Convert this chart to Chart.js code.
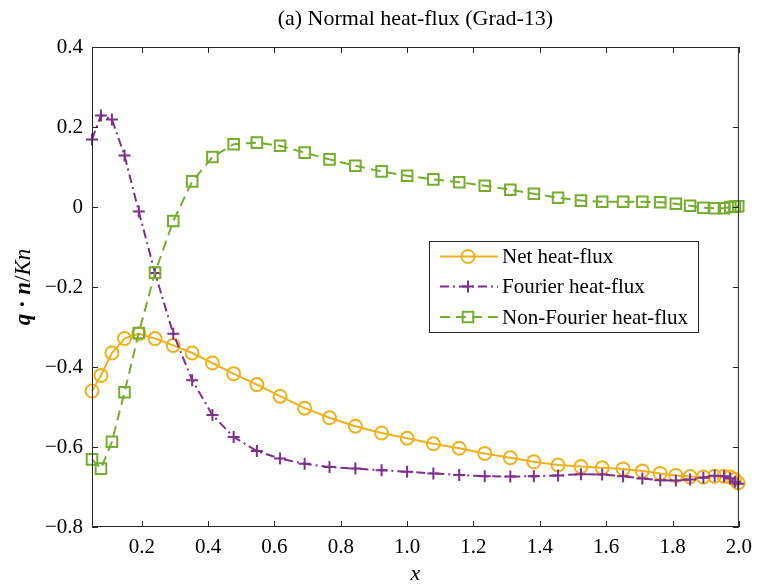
<!DOCTYPE html>
<html>
<head>
<meta charset="utf-8">
<script src="https://cdn.jsdelivr.net/npm/chart.js@4/dist/chart.umd.min.js"></script>
<style>
  html, body { margin: 0; padding: 0; background: #fff; }
  #wrap { width: 760px; height: 587px; }
</style>
</head>
<body>
<div id="wrap"><canvas id="chart" width="760" height="587"></canvas></div>
<script>
// values
var xPos = [0.05, 0.077, 0.11, 0.148, 0.191, 0.24, 0.295, 0.352, 0.413, 0.477, 0.547, 0.617,
            0.691, 0.766, 0.844, 0.923, 1.0, 1.079, 1.157, 1.234, 1.311, 1.382, 1.455, 1.524,
            1.588, 1.651, 1.709, 1.763, 1.81, 1.853, 1.893, 1.927, 1.955, 1.974, 1.988, 1.998];
var netFlux = [-0.46, -0.421, -0.365, -0.329, -0.317, -0.329, -0.346, -0.365, -0.39, -0.417, -0.444, -0.473,
               -0.503, -0.527, -0.548, -0.565, -0.578, -0.592, -0.603, -0.616, -0.627, -0.637, -0.645, -0.649,
               -0.652, -0.655, -0.66, -0.666, -0.671, -0.674, -0.675, -0.673, -0.673, -0.675, -0.681, -0.69];
var fourierFlux = [0.169, 0.229, 0.219, 0.129, -0.011, -0.165, -0.317, -0.433, -0.52, -0.575, -0.61, -0.629,
                   -0.642, -0.65, -0.654, -0.658, -0.662, -0.666, -0.67, -0.673, -0.674, -0.673, -0.671, -0.668,
                   -0.669, -0.673, -0.679, -0.683, -0.684, -0.681, -0.677, -0.672, -0.673, -0.679, -0.687, -0.692];
var nonFourierFlux = [-0.631, -0.654, -0.587, -0.463, -0.315, -0.164, -0.035, 0.064, 0.125, 0.157, 0.161, 0.153,
                      0.136, 0.119, 0.103, 0.089, 0.078, 0.069, 0.062, 0.053, 0.043, 0.033, 0.023, 0.016,
                      0.013, 0.013, 0.013, 0.012, 0.008, 0.003, -0.002, -0.003, -0.003, 0.0, 0.001, 0.002];
var seriesNames = ['Net heat-flux', 'Fourier heat-flux', 'Non-Fourier heat-flux'];
var xTicks = [0.2, 0.4, 0.6, 0.8, 1.0, 1.2, 1.4, 1.6, 1.8, 2.0];
var yTicks = [-0.8, -0.6, -0.4, -0.2, 0, 0.2, 0.4];
var chartTitle = '(a) Normal heat-flux (Grad-13)';

var SERIF = "'Liberation Serif', 'Times New Roman', serif";
var orange = '#EDB120', purple = '#7E2F8E', green = '#77AC30';

function pts(ys) {
    return xPos.map(function(x, i) { return { x: x, y: ys[i] }; });
}

function fmt(v) {
    if (Math.abs(v) < 1e-9) return '0';
    var s = Math.abs(v).toFixed(1);
    return v < 0 ? '\u2212' + s : s;
}

// draws one marker shape (used for the legend)
function marker(ctx, style, x, y, r, color) {
    ctx.save();
    ctx.strokeStyle = color;
    ctx.lineWidth = 2;
    ctx.setLineDash([]);
    ctx.beginPath();
    if (style === 'circle') {
        ctx.arc(x, y, r, 0, Math.PI * 2);
    } else if (style === 'cross') {
        ctx.moveTo(x - r, y); ctx.lineTo(x + r, y);
        ctx.moveTo(x, y - r); ctx.lineTo(x, y + r);
    } else {
        var s = r / Math.SQRT2;
        ctx.rect(x - s, y - s, 2 * s, 2 * s);
    }
    ctx.stroke();
    ctx.restore();
}

var framePlugin = {
    id: 'frame',
    afterDraw: function(chart) {
        var ctx = chart.ctx, a = chart.chartArea;
        var xs = chart.scales.x, ys = chart.scales.y;
        ctx.save();
        // box
        ctx.strokeStyle = '#262626';
        ctx.lineWidth = 1;
        ctx.strokeRect(a.left + 0.5, a.top + 0.5, a.right - a.left - 1, a.bottom - a.top - 1);
        // inward ticks on all four sides
        ctx.beginPath();
        xTicks.forEach(function(v) {
            var px = Math.round(xs.getPixelForValue(v)) + 0.5;
            ctx.moveTo(px, a.bottom); ctx.lineTo(px, a.bottom - 6);
            ctx.moveTo(px, a.top); ctx.lineTo(px, a.top + 6);
        });
        yTicks.forEach(function(v) {
            var py = Math.round(ys.getPixelForValue(v)) + 0.5;
            ctx.moveTo(a.left, py); ctx.lineTo(a.left + 6, py);
            ctx.moveTo(a.right, py); ctx.lineTo(a.right - 6, py);
        });
        ctx.stroke();

        // title
        ctx.fillStyle = '#000';
        ctx.font = '22px ' + SERIF;
        ctx.textAlign = 'center';
        ctx.textBaseline = 'middle';
        ctx.fillText(chartTitle, (a.left + a.right) / 2, 19);

        // x label
        ctx.font = 'italic 22px ' + SERIF;
        ctx.fillText('x', (a.left + a.right) / 2, 574);

        // y label: q · n/Kn with mixed styles
        var parts = [
            ['bold italic 23px ' + SERIF, 'q'],
            ['bold 23px ' + SERIF, ' \u00b7 '],
            ['bold italic 23px ' + SERIF, 'n'],
            ['23px ' + SERIF, '/'],
            ['italic 23px ' + SERIF, 'Kn']
        ];
        var total = 0;
        parts.forEach(function(p) { ctx.font = p[0]; total += ctx.measureText(p[1]).width; });
        ctx.translate(24, (a.top + a.bottom) / 2);
        ctx.rotate(-Math.PI / 2);
        ctx.textAlign = 'left';
        var cx = -total / 2;
        parts.forEach(function(p) {
            ctx.font = p[0];
            ctx.fillText(p[1], cx, 0);
            cx += ctx.measureText(p[1]).width;
        });
        ctx.restore();

        // legend
        ctx.save();
        var lx = 429, ly = 241, lw = 269, lh = 91;
        ctx.fillStyle = '#fff';
        ctx.fillRect(lx, ly, lw, lh);
        ctx.strokeStyle = '#262626';
        ctx.lineWidth = 1;
        ctx.strokeRect(lx + 0.5, ly + 0.5, lw, lh);
        var rows = [256.5, 286.5, 317];
        chart.data.datasets.forEach(function(ds, i) {
            var y = rows[i];
            ctx.strokeStyle = ds.borderColor;
            ctx.lineWidth = 2;
            ctx.setLineDash(ds.borderDash || []);
            ctx.beginPath();
            ctx.moveTo(440, y); ctx.lineTo(498, y);
            ctx.stroke();
            marker(ctx, ds.pointStyle, 468, y, ds.pointRadius, ds.borderColor);
            ctx.fillStyle = '#000';
            ctx.font = '21px ' + SERIF;
            ctx.textAlign = 'left';
            ctx.textBaseline = 'middle';
            ctx.fillText(ds.label, 502, y + 1);
        });
        ctx.restore();
    }
};

var ctx = document.getElementById('chart').getContext('2d');
var myChart = new Chart(ctx, {
    type: 'line',
    data: {
        datasets: [{
            label: seriesNames[0],
            data: pts(netFlux),
            borderColor: orange,
            backgroundColor: 'rgba(0,0,0,0)',
            borderWidth: 2,
            pointStyle: 'circle',
            pointRadius: 6.5,
            pointBorderWidth: 2,
            clip: false,
            order: 3
        }, {
            label: seriesNames[1],
            data: pts(fourierFlux),
            borderColor: purple,
            backgroundColor: 'rgba(0,0,0,0)',
            borderWidth: 2,
            borderDash: [9, 4, 2, 4],
            pointStyle: 'cross',
            pointRadius: 6,
            pointBorderWidth: 2,
            clip: false,
            order: 2
        }, {
            label: seriesNames[2],
            data: pts(nonFourierFlux),
            borderColor: green,
            backgroundColor: 'rgba(0,0,0,0)',
            borderWidth: 2,
            borderDash: [10, 6],
            pointStyle: 'rect',
            pointRadius: 7.5,
            pointBorderWidth: 2,
            clip: false,
            order: 1
        }]
    },
    options: {
        responsive: false,
        animation: false,
        layout: { padding: { top: 47, right: 15, left: 0, bottom: 0 } },
        plugins: {
            legend: { display: false },
            title: { display: false },
            tooltip: { enabled: false }
        },
        scales: {
            x: {
                type: 'linear',
                min: 0.05,
                max: 2.0,
                grid: { display: false, drawTicks: false },
                border: { display: false },
                afterBuildTicks: function(scale) {
                    scale.ticks = xTicks.map(function(v) { return { value: v }; });
                },
                afterFit: function(scale) { scale.height = 60; },
                ticks: {
                    padding: 8,
                    maxRotation: 0,
                    color: '#000',
                    font: { family: SERIF, size: 21 },
                    callback: function(v) { return fmt(v); }
                }
            },
            y: {
                type: 'linear',
                min: -0.8,
                max: 0.4,
                grid: { display: false, drawTicks: false },
                border: { display: false },
                afterBuildTicks: function(scale) {
                    scale.ticks = yTicks.map(function(v) { return { value: v }; });
                },
                afterFit: function(scale) { scale.width = 92; },
                ticks: {
                    padding: 9,
                    color: '#000',
                    font: { family: SERIF, size: 21 },
                    callback: function(v) { return fmt(v); }
                }
            }
        }
    },
    plugins: [framePlugin]
});
</script>
</body>
</html>
